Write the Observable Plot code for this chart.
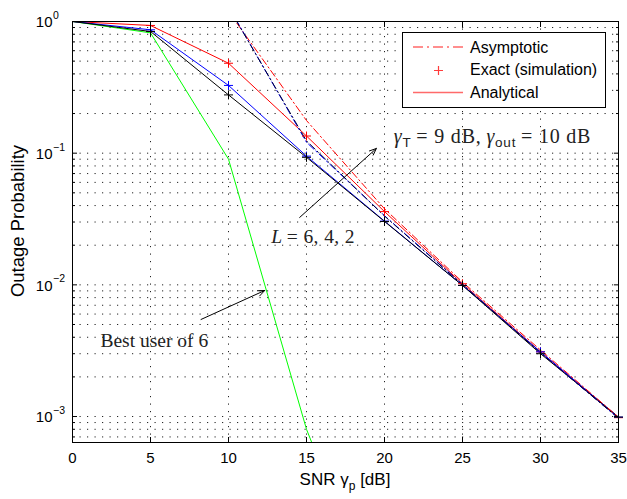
<!DOCTYPE html>
<html><head><meta charset="utf-8">
<script src="https://cdn.jsdelivr.net/npm/d3@7"></script>
<script src="https://cdn.jsdelivr.net/npm/@observablehq/plot@0.6"></script>
<style>body{margin:0;background:#fff} svg{display:block}</style>
</head><body><div id="chart"></div>
<script>
// ---- data ----
const snr = [0, 5, 10, 15, 20, 25, 30, 35];
const analyticL6 = [1, 0.84, 0.277, 0.093, 0.0303, 0.0099, 0.0030, 0.00099];   // black
const analyticL4 = [1, 0.865, 0.327, 0.095, 0.0305, 0.0099, 0.0031, 0.00099];  // blue
const analyticL2 = [1, 0.933, 0.482, 0.135, 0.036, 0.0102, 0.0031, 0.00098];   // red
const bestSnr = [0, 5, 10, 15, 20];
const bestOf6 = [1, 0.82, 0.090, 0.00080, 0.000026];                           // green
const simSnr = [5, 10, 15, 20, 25, 30, 35];
const simL6 = [0.84, 0.277, 0.093, 0.0303, 0.0099, 0.0030, 0.00099];
const simL4 = [0.865, 0.327, 0.095, 0.0305, 0.0099, 0.0031, 0.00099];
const simL2 = [0.933, 0.482, 0.135, 0.036, 0.0102, 0.0031, 0.00098];
const asySnr = [10, 15, 20, 25, 30, 35];
const asyL6 = [1.28, 0.124, 0.0333, 0.0100, 0.00305, 0.00097];
const asyL4 = [1.30, 0.121, 0.0335, 0.0101, 0.00306, 0.00097];
const asyL2 = [1.19, 0.177, 0.0378, 0.0105, 0.0032, 0.00099];

const xTicks = [0, 5, 10, 15, 20, 25, 30, 35];
const yMajor = [1e-3, 1e-2, 1e-1, 1];
const yExp = ["\u22123", "\u22122", "\u22121", "0"];
const yMinorMult = [2, 3, 4, 5, 6, 7, 8, 9];
const yExtraMinor = [7e-4, 8e-4, 9e-4];
const yDomain = [6.35e-4, 1];

// annotation anchors (data coordinates)
const arrows = [
  {x1: 14.56, y1: 0.0325, x2: 19.48, y2: 0.1086},
  {x1: 8.24, y1: 0.00546, x2: 12.32, y2: 0.00906}
];
const noteGamma = {x: 20.63, y: 0.1185};
const noteL = {x: 12.77, y: 0.0206};
const noteBest = {x: 1.79, y: 0.00335, text: "Best user of 6"};

const rows = (xs, ys) => xs.map((x, i) => ({x, y: ys[i]}));
const yMinor = yMajor.slice(0, 3).flatMap(d => yMinorMult.map(m => d * m)).concat(yExtraMinor);
const yGrid = yMajor.concat(yMinor);
const gridX = xTicks.slice(1, -1);

const plus = {draw(ctx, size) { const r = Math.sqrt(size / Math.PI); ctx.moveTo(-r, 0); ctx.lineTo(r, 0); ctx.moveTo(0, -r); ctx.lineTo(0, r); }};
const dashDot = "7,3,1.5,3";
const sans = "'Liberation Sans', Arial, Helvetica, sans-serif";
const serif = "'Liberation Serif', 'Times New Roman', serif";

const svg = Plot.plot({
  width: 627, height: 499,
  marginLeft: 72, marginRight: 9, marginTop: 21, marginBottom: 57,
  style: {fontFamily: sans, fontSize: "15px", background: "white", color: "black"},
  x: {domain: [0, 35]},
  y: {type: "log", domain: yDomain},
  marks: [
    Plot.ruleX(gridX, {x: d => d, stroke: "#222", strokeDasharray: "1.2,6.3", strokeWidth: 1}),
    Plot.ruleY(yGrid, {y: d => d, stroke: "#222", strokeDasharray: "1.2,6.3", strokeWidth: 1}),
    Plot.line(rows(bestSnr, bestOf6), {x: "x", y: "y", stroke: "#00ff00", strokeWidth: 1, clip: true}),
    Plot.line(rows(snr, analyticL2), {x: "x", y: "y", stroke: "#ff0000", strokeWidth: 1, clip: true}),
    Plot.line(rows(snr, analyticL4), {x: "x", y: "y", stroke: "#0000ff", strokeWidth: 1, clip: true}),
    Plot.line(rows(snr, analyticL6), {x: "x", y: "y", stroke: "#000000", strokeWidth: 1, clip: true}),
    Plot.line(rows(asySnr, asyL2), {x: "x", y: "y", stroke: "#ff0000", strokeWidth: 1, strokeDasharray: dashDot, clip: true}),
    Plot.line(rows(asySnr, asyL4), {x: "x", y: "y", stroke: "#0000ff", strokeWidth: 1, strokeDasharray: dashDot, clip: true}),
    Plot.line(rows(asySnr, asyL6), {x: "x", y: "y", stroke: "#000033", strokeWidth: 1, strokeDasharray: dashDot, clip: true}),
    Plot.dot(rows(simSnr, simL2), {x: "x", y: "y", symbol: plus, r: 4.5, stroke: "#ff0000", fill: "none", strokeWidth: 1}),
    Plot.dot(rows(simSnr, simL4), {x: "x", y: "y", symbol: plus, r: 4.5, stroke: "#0000ff", fill: "none", strokeWidth: 1}),
    Plot.dot(rows(simSnr, simL6), {x: "x", y: "y", symbol: plus, r: 4.5, stroke: "#000000", fill: "none", strokeWidth: 1}),
    Plot.arrow(arrows, {x1: "x1", y1: "y1", x2: "x2", y2: "y2", stroke: "black", strokeWidth: 1, headLength: 11, headAngle: 45}),
    Plot.text([noteBest], {x: "x", y: "y", text: "text", textAnchor: "start", lineAnchor: "bottom", fontFamily: serif, fontSize: 19.5, fill: "#222", style: "letter-spacing:1px"}),
    Plot.frame({stroke: "black", strokeWidth: 1}),
    Plot.axisX({anchor: "bottom", ticks: xTicks, tickSize: -5, tickPadding: 15, tickFormat: d => String(d), label: null, fontSize: 15}),
    Plot.axisX({anchor: "top", ticks: xTicks, tickSize: -5, tickFormat: () => "", label: null}),
    Plot.axisY({anchor: "left", ticks: yMajor, tickSize: -5, tickFormat: () => "", label: null}),
    Plot.axisY({anchor: "left", ticks: yMinor, tickSize: -3, tickFormat: () => "", label: null}),
    Plot.axisY({anchor: "right", ticks: yMajor, tickSize: -5, tickFormat: () => "", label: null}),
    Plot.axisY({anchor: "right", ticks: yMinor, tickSize: -3, tickFormat: () => "", label: null}),
    Plot.text(yMajor, {y: d => d, frameAnchor: "left", text: () => "10", textAnchor: "end", dx: -20, dy: 1, fontSize: 15}),
    Plot.text(yMajor, {y: d => d, frameAnchor: "left", text: (d, i) => yExp[i], textAnchor: "start", dx: -19.5, dy: -6, fontSize: 10.5}),
    Plot.text(["Outage Probability"], {frameAnchor: "left", text: d => d, rotate: -90, textAnchor: "middle", lineAnchor: "middle", dx: -54, dy: -11, fontSize: 18.5})
  ]
});

const xs = svg.scale("x"), ys = svg.scale("y");
const root = d3.select(svg);

// x label with subscript
const xl = root.append("text")
  .attr("x", xs.apply(17.5)).attr("y", 485)
  .attr("text-anchor", "middle").attr("font-family", sans).attr("font-size", 17).attr("fill", "black");
xl.append("tspan").text("SNR \u03b3");
xl.append("tspan").attr("font-size", 12).attr("dy", 5).text("p");
xl.append("tspan").attr("dy", -5).text(" [dB]");

// gamma annotation
const g1 = root.append("text")
  .attr("x", xs.apply(noteGamma.x)).attr("y", ys.apply(noteGamma.y))
  .attr("text-anchor", "start").attr("letter-spacing", "0.8")
  .attr("font-family", serif).attr("font-size", 20).attr("fill", "#222");
g1.append("tspan").attr("font-style", "italic").text("\u03b3");
g1.append("tspan").attr("font-family", sans).attr("font-size", 13.5).attr("dy", 4).text("T");
g1.append("tspan").attr("dy", -4).text("\u2009= 9 dB,\u2009");
g1.append("tspan").attr("font-style", "italic").text("\u03b3");
g1.append("tspan").attr("font-family", sans).attr("font-size", 13.5).attr("dy", 4).text("out");
g1.append("tspan").attr("dy", -4).text("\u2009= 10 dB");

// L annotation
const g2 = root.append("text")
  .attr("x", xs.apply(noteL.x)).attr("y", ys.apply(noteL.y))
  .attr("text-anchor", "start").attr("letter-spacing", "0.4")
  .attr("font-family", serif).attr("font-size", 19.5).attr("fill", "#222");
g2.append("tspan").attr("font-style", "italic").text("L");
g2.append("tspan").text("\u2009= 6, 4, 2");

// legend
const lg = root.append("g").attr("text-anchor", "start");
lg.append("rect").attr("x", 402.5).attr("y", 32.5).attr("width", 203).attr("height", 75)
  .attr("fill", "white").attr("stroke", "black").attr("stroke-width", 1);
const legendRed = "#ff6a6a";
lg.append("line").attr("x1", 413).attr("x2", 463).attr("y1", 47).attr("y2", 47)
  .attr("stroke", legendRed).attr("stroke-width", 1.3).attr("stroke-dasharray", "10,4,2,4");
lg.append("path").attr("d", "M434,70.5H443M438.5,66V75").attr("stroke", "#ff3c3c").attr("stroke-width", 1.2);
lg.append("line").attr("x1", 413).attr("x2", 463).attr("y1", 92.5).attr("y2", 92.5)
  .attr("stroke", legendRed).attr("stroke-width", 1.5);
const labels = ["Asymptotic", "Exact (simulation)", "Analytical"];
const baselines = [52.5, 75, 98];
labels.forEach((t, i) => lg.append("text").attr("x", 470).attr("y", baselines[i])
  .attr("text-anchor", "start")
  .attr("font-family", sans).attr("font-size", 16).attr("fill", "black").text(t));

document.getElementById("chart").appendChild(svg);
</script>
</body></html>
